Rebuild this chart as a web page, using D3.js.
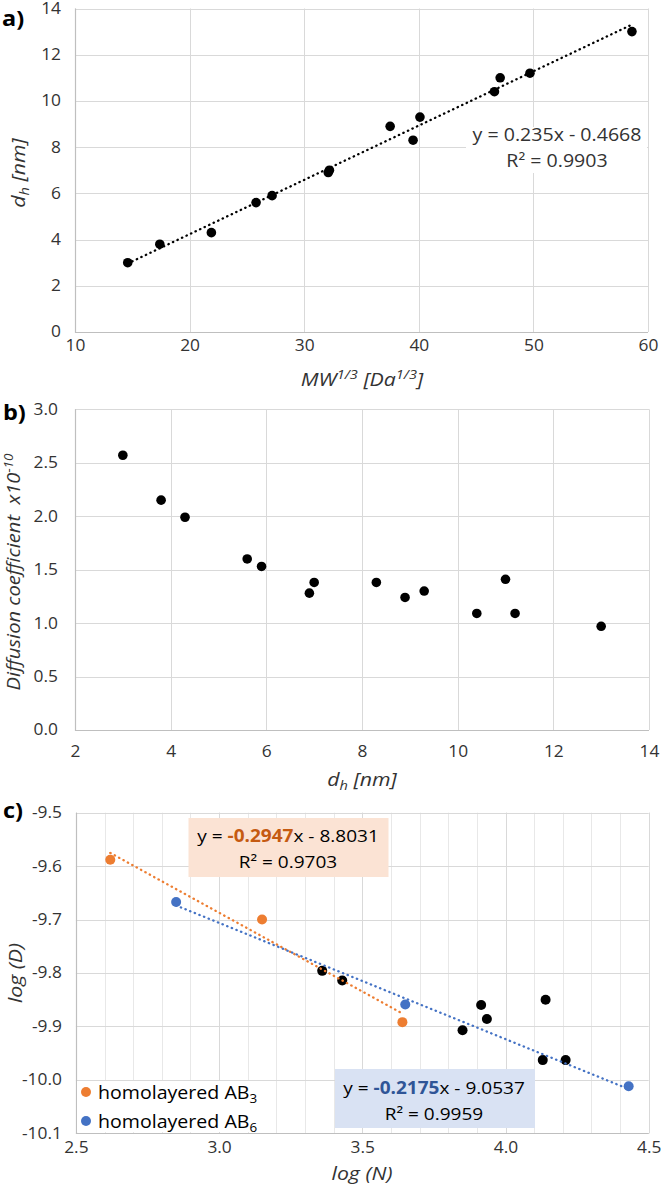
<!DOCTYPE html>
<html>
<head>
<meta charset="utf-8">
<script src="https://cdn.jsdelivr.net/npm/d3@7"></script>
<style>
  body { margin: 0; background: #fff; }
  svg { display: block; font-family: "Open Sans", sans-serif; }
</style>
</head>
<body>
<div id="chart"></div>
<script>
// a) d_h tegen MW^(1/3)
const aMW = [14.6, 17.4, 21.9, 25.8, 27.2, 32.1, 32.2, 37.5, 39.5, 40.1, 46.6, 47.1, 49.7, 58.6];
const aDh = [3.0, 3.8, 4.3, 5.6, 5.9, 6.9, 7.0, 8.9, 8.3, 9.3, 10.4, 11.0, 11.2, 13.0];
const aFit = [0.235, -0.4668];
const aXTicks = [10, 20, 30, 40, 50, 60];
const aYTicks = [0, 2, 4, 6, 8, 10, 12, 14];

// b) diffusiecoefficient tegen d_h
const bDh = [3.0, 3.8, 4.3, 5.6, 5.9, 6.9, 7.0, 8.3, 8.9, 9.3, 10.4, 11.0, 11.2, 13.0];
const bD = [2.57, 2.15, 1.99, 1.60, 1.53, 1.28, 1.38, 1.38, 1.24, 1.30, 1.09, 1.41, 1.09, 0.97];
const bXTicks = [2, 4, 6, 8, 10, 12, 14];
const bYTicks = [0, 0.5, 1.0, 1.5, 2.0, 2.5, 3.0];

// c) log D tegen log N
const cAB3N = [2.62, 3.15, 3.64];
const cAB3D = [-9.588, -9.700, -9.892];
const cAB6N = [2.85, 3.65, 4.43];
const cAB6D = [-9.667, -9.859, -10.012];
const cRestN = [3.36, 3.43, 3.85, 3.915, 3.935, 4.14, 4.13, 4.21];
const cRestD = [-9.796, -9.814, -9.907, -9.860, -9.886, -9.850, -9.963, -9.963];
const cAB3Fit = [-0.2947, -8.8031];
const cAB6Fit = [-0.2175, -9.0537];
const cXTicks = [2.5, 3.0, 3.5, 4.0, 4.5];
const cYTicks = [-10.1, -10.0, -9.9, -9.8, -9.7, -9.6, -9.5];
const cSeries = ["homolayered AB", "homolayered AB"];
const cSubs = ["3", "6"];

const SX = 1.12; // tekst in het origineel is wat breder uitgerekt
const GRID = "#d9d9d9", AXIS = "#bfbfbf", INK = "#333";
const ORANGE = "#ed7d31", BLUE = "#4472c4";
const TICK = 15.5, TITLE = 19, EQ = 17.5;

const svg = d3.select("#chart").append("svg")
    .attr("width", 661)
    .attr("height", 1188);

const px = v => Math.round(v) + 0.5;

function frame(x, y, xt, yt, minor) {
  const g = svg.append("g").attr("fill", "none");
  const [x0, x1] = x.range(), [y0, y1] = y.range();
  if (minor) g.append("g").selectAll("line").data(minor).join("line")
      .attr("x1", d => px(x(d))).attr("x2", d => px(x(d)))
      .attr("y1", y0).attr("y2", y1)
      .attr("stroke", "#e8e8e8");
  g.append("g").selectAll("line").data(xt).join("line")
      .attr("x1", d => px(x(d))).attr("x2", d => px(x(d)))
      .attr("y1", y0).attr("y2", y1)
      .attr("stroke", GRID);
  g.append("g").selectAll("line").data(yt).join("line")
      .attr("x1", x0).attr("x2", x1)
      .attr("y1", d => px(y(d))).attr("y2", d => px(y(d)))
      .attr("stroke", GRID);
  g.append("path")
      .attr("d", `M${px(x0)},${y1}V${px(y0)}H${x1}`)
      .attr("stroke", AXIS)
      .attr("stroke-width", 1.2);
}

function labels(x, y, xt, yt, xfmt, yfmt, xOff, yGap) {
  svg.append("g")
      .attr("transform", `translate(0,${y.range()[0]})`)
      .call(d3.axisBottom(x).tickValues(xt).tickFormat(xfmt).tickSize(0))
      .call(g => g.select(".domain").remove())
      .attr("font-family", null).attr("font-size", TICK)
      .call(g => g.selectAll("text")
          .attr("y", xOff).attr("dy", 0)
          .attr("fill", INK)
          .attr("transform", `scale(${SX},1)`));
  svg.append("g")
      .attr("transform", `translate(${x.range()[0]},0)`)
      .call(d3.axisLeft(y).tickValues(yt).tickFormat(yfmt).tickSize(0).tickPadding(yGap / SX))
      .call(g => g.select(".domain").remove())
      .attr("font-family", null).attr("font-size", TICK)
      .call(g => g.selectAll("text")
          .attr("fill", INK)
          .attr("transform", `scale(${SX},1)`));
}

function text(x, y, size, anchor = "middle", rot = 0) {
  return svg.append("text")
      .attr("transform", `translate(${x},${y})${rot ? ` rotate(${rot})` : ""} scale(${SX},1)`)
      .attr("text-anchor", anchor)
      .attr("font-size", size)
      .attr("fill", INK);
}

function dots(x, y, xs, ys, color, r = 4.8) {
  svg.append("g").selectAll("circle").data(xs).join("circle")
      .attr("cx", d => x(d))
      .attr("cy", (d, i) => y(ys[i]))
      .attr("r", r)
      .attr("fill", color);
}

function trend(x, y, xs, fit, color) {
  const pts = d3.extent(xs).map(v => [v, fit[0] * v + fit[1]]);
  svg.append("path")
      .attr("d", d3.line().x(d => x(d[0])).y(d => y(d[1]))(pts))
      .attr("fill", "none")
      .attr("stroke", color)
      .attr("stroke-width", 2.3)
      .attr("stroke-linecap", "round")
      .attr("stroke-dasharray", "0.4,4.6");
}

const num = d => d;
const one = d => d.toFixed(1);

// ---------- a ----------
const ax = d3.scaleLinear().domain([10, 60]).range([75, 648]);
const ay = d3.scaleLinear().domain([0, 14]).range([332, 8.5]);
frame(ax, ay, aXTicks, aYTicks);
labels(ax, ay, aXTicks, aYTicks, num, num, 19, 14);
svg.append("rect").attr("x", 466).attr("y", 127).attr("width", 181).attr("height", 46).attr("fill", "#fff");
dots(ax, ay, aMW, aDh, "#000");
trend(ax, ay, aMW, aFit, "#000");
text(557, 140.5, EQ).text(`y = ${aFit[0]}x - ${Math.abs(aFit[1])}`);
text(557, 167, EQ).text("R² = 0.9903");
text(2, 26, 21, "start").attr("font-weight", "bold").attr("fill", "#000").text("a)");
const aXT = text(362, 386, TITLE).attr("font-style", "italic");
aXT.append("tspan").text("MW");
aXT.append("tspan").attr("font-size", 13).attr("dy", -7).text("1/3");
aXT.append("tspan").attr("dy", 7).text(" [Da");
aXT.append("tspan").attr("font-size", 13).attr("dy", -7).text("1/3");
aXT.append("tspan").attr("dy", 7).text("]");
const aYT = text(25, 173, TITLE, "middle", -90).attr("font-style", "italic");
aYT.append("tspan").text("d");
aYT.append("tspan").attr("font-size", 13).attr("dy", 4).text("h");
aYT.append("tspan").attr("dy", -4).text(" [nm]");

// ---------- b ----------
const bx = d3.scaleLinear().domain([2, 14]).range([75, 649]);
const by = d3.scaleLinear().domain([0, 3]).range([730, 409.3]);
frame(bx, by, bXTicks, bYTicks);
labels(bx, by, bXTicks, bYTicks, num, one, 27, 17);
dots(bx, by, bDh, bD, "#000");
text(3, 420, 21, "start").attr("font-weight", "bold").attr("fill", "#000").text("b)");
const bXT = text(362, 786, TITLE).attr("font-style", "italic");
bXT.append("tspan").text("d");
bXT.append("tspan").attr("font-size", 13).attr("dy", 4).text("h");
bXT.append("tspan").attr("dy", -4).text(" [nm]");
const bYT = text(20, 572, 18, "middle", -90).attr("font-style", "italic");
bYT.append("tspan").text("Diffusion coefficient\u00a0 x10");
bYT.append("tspan").attr("font-size", 12).attr("dy", -7).text("-10");

// ---------- c ----------
const cx = d3.scaleLinear().domain([2.5, 4.5]).range([75.9, 648.7]);
const cy = d3.scaleLinear().domain([-10.1, -9.5]).range([1133.3, 812.7]);
frame(cx, cy, cXTicks, cYTicks, cx.ticks(20));
labels(cx, cy, cXTicks, cYTicks, one, one, 20, 14);

// vergelijkingen en legenda
svg.append("rect").attr("x", 188.5).attr("y", 818).attr("width", 200).attr("height", 59).attr("fill", "#fbe3d4");
svg.append("rect").attr("x", 335).attr("y", 1069).attr("width", 200).attr("height", 59).attr("fill", "#d9e2f3");
svg.append("rect").attr("x", 77).attr("y", 1081).attr("width", 186).attr("height", 51).attr("fill", "#fff");

dots(cx, cy, cRestN, cRestD, "#000", 5);
dots(cx, cy, cAB3N, cAB3D, ORANGE, 5);
dots(cx, cy, cAB6N, cAB6D, BLUE, 5);
trend(cx, cy, cAB3N, cAB3Fit, ORANGE);
trend(cx, cy, cAB6N, cAB6Fit, BLUE);

const e3 = text(288, 841.5, 17).attr("fill", "#000");
e3.append("tspan").text("y = ");
e3.append("tspan").attr("font-weight", "bold").attr("fill", "#c55a11").text(cAB3Fit[0]);
e3.append("tspan").text(`x - ${Math.abs(cAB3Fit[1])}`);
text(288, 868, 17).attr("fill", "#000").text("R² = 0.9703");
const e6 = text(434, 1093.5, 17).attr("fill", "#000");
e6.append("tspan").text("y = ");
e6.append("tspan").attr("font-weight", "bold").attr("fill", "#2f5597").text(cAB6Fit[0]);
e6.append("tspan").text(`x - ${Math.abs(cAB6Fit[1])}`);
text(434, 1120, 17).attr("fill", "#000").text("R² = 0.9959");

[ORANGE, BLUE].forEach((col, i) => {
  svg.append("circle").attr("cx", 86).attr("cy", 1092 + i * 29).attr("r", 5).attr("fill", col);
  const t = text(98, 1099 + i * 29, EQ, "start").attr("fill", "#000");
  t.append("tspan").text(cSeries[i]);
  t.append("tspan").attr("font-size", 12).attr("dy", 4).text(cSubs[i]);
});

text(3, 818, 21, "start").attr("font-weight", "bold").attr("fill", "#000").text("c)");
text(362, 1180, TITLE).attr("font-style", "italic").text("log (N)");
text(22, 973, TITLE, "middle", -90).attr("font-style", "italic").text("log (D)");
</script>
</body>
</html>
